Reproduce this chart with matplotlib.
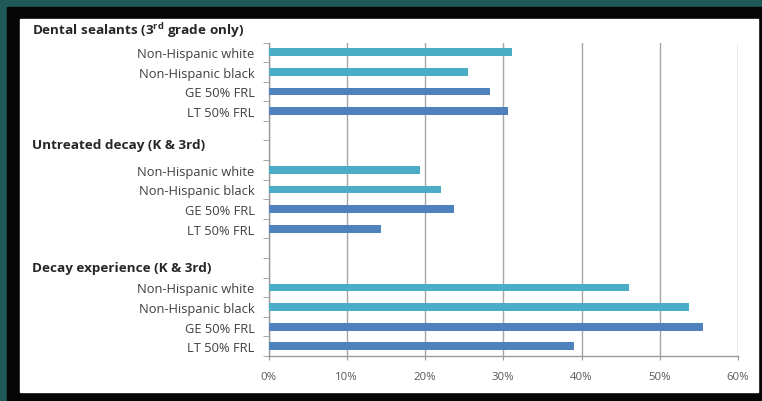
import matplotlib
matplotlib.use("Agg")
import matplotlib.pyplot as plt
from matplotlib.patches import Rectangle
from matplotlib.ticker import FuncFormatter, MultipleLocator

plt.rcParams['font.family'] = ['Open Sans', 'DejaVu Sans']
plt.rcParams['mathtext.fontset'] = 'custom'
plt.rcParams['mathtext.bf'] = 'Open Sans:bold'
plt.rcParams['mathtext.rm'] = 'Open Sans:bold'

groups = ["Dental sealants (3$^{\\mathbf{rd}}$ grade only)",
          "Untreated decay (K & 3rd)",
          "Decay experience (K & 3rd)"]
labels = ["Non-Hispanic white", "Non-Hispanic black", "GE 50% FRL", "LT 50% FRL"]
sealants = [31.1, 25.5, 28.3, 30.6]
untreated = [19.4, 22.0, 23.7, 14.4]
experience = [46.1, 53.8, 55.5, 39.1]
bar_colors = ['#4bacc6', '#4bacc6', '#4f81bd', '#4f81bd']
header_rows = [-0.17, 5.7, 11.98]
start_rows = [1, 7, 13]

f = plt.figure(figsize=(7.62, 4.02), dpi=100)
# background: teal, black frame, white panel
f.patches.append(Rectangle((0, 0), 1, 1, transform=f.transFigure, color='#1f5a58', zorder=-3))
f.patches.append(Rectangle((7/762, 0), 1, 1 - 8/402, transform=f.transFigure, color='#050505', zorder=-2))
f.patches.append(Rectangle((20/762, 1 - 393/402), (758 - 20)/762, (393 - 20)/402,
                           transform=f.transFigure, color='white', zorder=-1))

ax = f.add_axes([268.5/762, 1 - 357/402, (738 - 268.5)/762, (357 - 43.5)/402])
ax.set_facecolor('none')

for vals, r0 in zip([sealants, untreated, experience], start_rows):
    rows = [r0 + i for i in range(len(vals))]
    ax.barh(rows, vals, height=0.4, color=bar_colors, zorder=3)

ytick_rows = []
ytick_labels = []
for r0 in start_rows:
    for i, lab in enumerate(labels):
        ytick_rows.append(r0 + i)
        ytick_labels.append(lab)

ax.set_ylim(16.5, 0.5)
ax.set_xlim(0, 60)
ax.set_yticks(ytick_rows)
ax.set_yticklabels(ytick_labels, fontsize=9.3, color='#404040')
ax.set_yticks([r + 0.5 for r in range(0, 17)], minor=True)
ax.tick_params(axis='y', which='major', length=0, pad=10)
ax.tick_params(axis='y', which='minor', length=4, color='#9a9a9a', direction='out')
ax.xaxis.set_major_locator(MultipleLocator(10))
ax.xaxis.set_major_formatter(FuncFormatter(lambda v, p: '%d%%' % v))
ax.tick_params(axis='x', length=3, color='#9a9a9a', labelsize=8.2, labelcolor='#595959', pad=8)
ax.grid(axis='x', color='#a6a6a6', linewidth=1.0, zorder=0)

for s in ['top', 'right']:
    ax.spines[s].set_visible(False)
for s in ['left', 'bottom']:
    ax.spines[s].set_color('#9a9a9a')
    ax.spines[s].set_linewidth(1.0)

hx = 32/762
for g, hr in zip(groups, header_rows):
    ax.text(hx, hr, g, transform=ax.get_yaxis_transform().__class__(f.transFigure, ax.transData),
            fontsize=9.7, fontweight='bold', color='#262626', ha='left', va='center', clip_on=False)

f.savefig("out.png", dpi=100)
